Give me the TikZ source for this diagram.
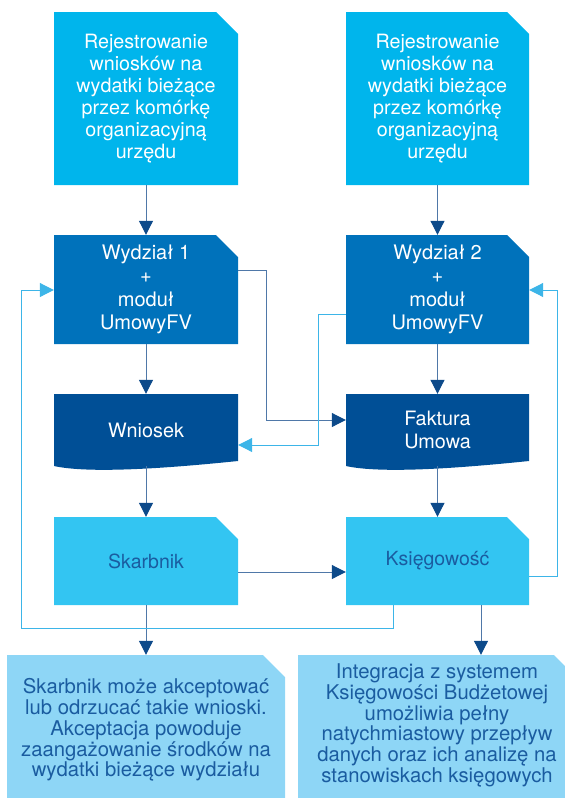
\documentclass[tikz,border=0pt]{standalone}
\usepackage{fontspec}
\setmainfont{TeX Gyre Heros}
\usetikzlibrary{arrows.meta}
\definecolor{cTop}{HTML}{00B5EC}
\definecolor{cWyd}{HTML}{0072BB}
\definecolor{cDoc}{HTML}{004F96}
\definecolor{cSk}{HTML}{33C5F2}
\definecolor{cBot}{HTML}{8ED6F6}
\definecolor{cTxt}{HTML}{1A5CA0}
\definecolor{cLine}{HTML}{4F78A8}
\definecolor{cArr}{HTML}{0D4A8A}
\definecolor{cLight}{HTML}{3DB5E8}
\newcommand\cutshape[5]{\fill[#5] (#1,#4) -- (#1,#2) -- ({#3-22},#2) -- (#3,{#2+22}) -- (#3,#4) -- cycle;}
\begin{document}
\begin{tikzpicture}[x=1pt,y=-1pt,
  box/.style={inner sep=0pt, minimum width=184pt, align=center},
  toptxt/.style={box, text=white, font=\fontsize{19.7pt}{22pt}\selectfont},
  wydtxt/.style={box, text=white, font=\fontsize{20pt}{23.3pt}\selectfont},
  doctxt/.style={box, text=white, font=\fontsize{19.8pt}{22.5pt}\selectfont},
  sktxt/.style={box, text=cTxt, font=\fontsize{19.5pt}{22pt}\selectfont},
  bottxt/.style={inner sep=0pt, minimum width=278pt, align=center, text=cTxt, font=\fontsize{20.3pt}{20.8pt}\selectfont},
  darr/.style={draw=cLine, line width=1pt, -{Triangle[width=14pt,length=14pt,color=cArr]}},
  larr/.style={draw=cLight, line width=1pt, -{Triangle[width=14pt,length=14pt,color=cLight]}}
]
\useasboundingbox (0,0) rectangle (565,798);
\clip (0,0) rectangle (565,798);
% shapes
\cutshape{54}{12}{238}{185}{cTop}
\cutshape{346}{12}{529}{185}{cTop}
\cutshape{54}{235}{238}{344}{cWyd}
\cutshape{346}{235}{529}{344}{cWyd}
\fill[cDoc] (54,394) -- (238,394) -- (238,461) .. controls (170,468) and (90,474) .. (54,466) -- cycle;
\fill[cDoc] (346,394) -- (529,394) -- (529,461) .. controls (461,468) and (382,474) .. (346,466) -- cycle;
\cutshape{54}{517}{238}{605}{cSk}
\cutshape{346}{517}{529}{605}{cSk}
\cutshape{7}{655}{285}{810}{cBot}
\cutshape{298}{655}{576}{810}{cBot}
% nodes
\node[toptxt, minimum height=173pt] (r1) at (146,98.5) {Rejestrowanie\\wniosków na\\wydatki bieżące\\przez komórkę\\organizacyjną\\urzędu};
\node[toptxt, minimum height=173pt, minimum width=183pt] (r2) at (437.5,98.5) {Rejestrowanie\\wniosków na\\wydatki bieżące\\przez komórkę\\organizacyjną\\urzędu};
\node[wydtxt, minimum height=109pt] (w1) at (146,289.5) {Wydział 1\\+\\moduł\\UmowyFV};
\node[wydtxt, minimum height=109pt, minimum width=183pt] (w2) at (437.5,289.5) {Wydział 2\\+\\moduł\\UmowyFV};
\node[doctxt, minimum height=72pt] (n1) at (146,430) {Wniosek};
\node[doctxt, minimum height=72pt, minimum width=183pt] (f2) at (437.5,430) {Faktura\\Umowa};
\node[sktxt, minimum height=88pt] (s1) at (146,561) {Skarbnik};
\node[sktxt, minimum height=88pt, minimum width=183pt] (k2) at (437.5,561) {Księgowość};
\node[bottxt, minimum height=150pt] (b1) at (146,730) {Skarbnik może akceptować\\lub odrzucać takie wnioski.\\Akceptacja powoduje\\zaangażowanie środków na\\wydatki bieżące wydziału};
\node[bottxt, minimum height=141pt] (b2) at (437,725.5) {Integracja z systemem\\Księgowości Budżetowej\\umożliwia pełny\\natychmiastowy przepływ\\danych oraz ich analizę na\\stanowiskach księgowych};
% helper coordinates
\coordinate (kx) at (481,0);
\coordinate (ma) at (266,270);
\coordinate (mb) at (266,420);
\coordinate (na) at (318,314);
\coordinate (nb) at (318,445);
\coordinate (sa) at (300,572);
\coordinate (ra) at (557,576);
\coordinate (rb) at (557,290);
\coordinate (la) at (393,628);
\coordinate (lb) at (21,628);
\coordinate (lc) at (21,290);
% connectors
\draw[darr] (r1) -- (w1);
\draw[darr] (r2) -- (w2);
\draw[darr] (w1) -- (n1);
\draw[darr] (w2) -- (f2);
\draw[darr] (n1) -- (s1);
\draw[darr] (f2) -- (k2);
\draw[darr] (s1) -- (b1);
\draw[darr] (k2.south -| kx) -- (b2.north -| kx);
\draw[darr] (s1.east |- sa) -- (k2.west |- sa);
\draw[darr] (w1.east |- ma) -- (ma) -- (mb) -- (f2.west |- mb);
\draw[larr] (w2.west |- na) -- (na) -- (nb) -- (n1.east |- nb);
\draw[larr] (k2.east |- ra) -- (ra) -- (rb) -- (w2.east |- rb);
\draw[larr] (k2.south -| la) -- (la) -- (lb) -- (lc) -- (w1.west |- lc);
\end{tikzpicture}
\end{document}
